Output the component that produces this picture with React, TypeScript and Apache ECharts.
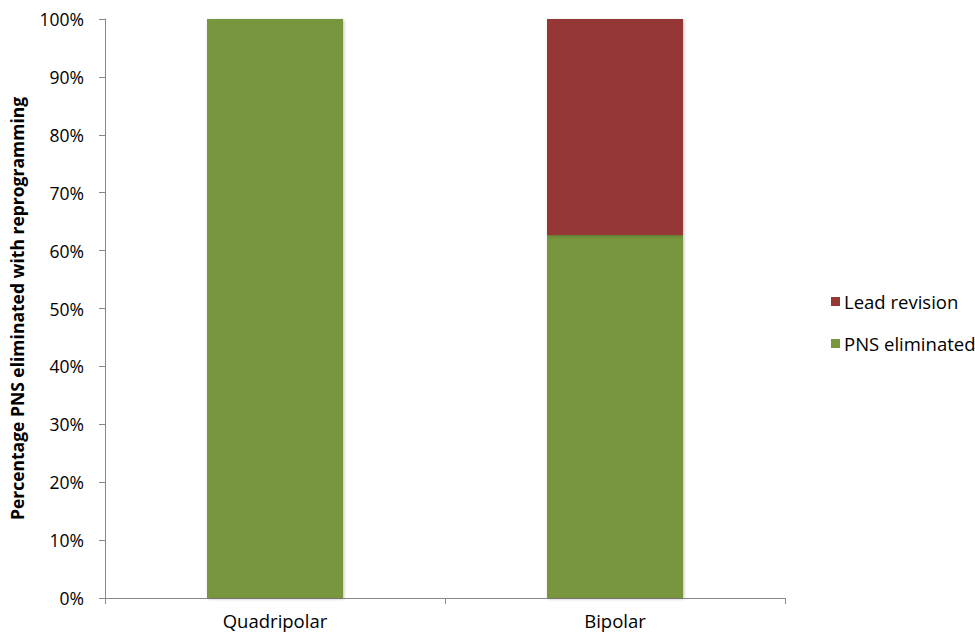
import React, { useEffect, useRef } from "react";
import * as echarts from "echarts";

const categories = ["Quadripolar", "Bipolar"];
const pnsEliminated = [100, 62.7];
const leadRevision = [0, 37.3];
const legendOrder = ["Lead revision", "PNS eliminated"];
const yAxisTitle = "Percentage PNS eliminated with reprogramming";

export default function App() {
  const ref = useRef<HTMLDivElement>(null);
  useEffect(() => {
    document.body.style.margin = "0";
    const chart = echarts.init(ref.current!, undefined, { renderer: "svg" });
    const font = "'Open Sans', Lato, sans-serif";
    chart.setOption({
      animation: false,
      textStyle: { fontFamily: font },
      grid: { left: 104, right: 190, top: 19, bottom: 37 },
      legend: {
        data: legendOrder,
        orient: "vertical",
        left: 826,
        top: 287,
        itemWidth: 9,
        itemHeight: 9,
        itemGap: 23,
        icon: "rect",
        textStyle: { fontSize: 18.5, color: "#000", fontFamily: font, padding: [0, 0, 0, -1] },
      },
      xAxis: {
        type: "category",
        data: categories,
        axisLine: { lineStyle: { color: "#898989", width: 1 } },
        axisTick: { show: true, alignWithLabel: false, length: 6, lineStyle: { color: "#898989" } },
        axisLabel: { fontSize: 18.5, color: "#000", margin: 13, fontFamily: font },
      },
      yAxis: {
        type: "value",
        min: 0,
        max: 100,
        interval: 10,
        name: yAxisTitle,
        nameLocation: "middle",
        nameGap: 79,
        nameTextStyle: { fontSize: 17.5, fontWeight: "bold", color: "#000", fontFamily: font },
        axisLine: { show: true, lineStyle: { color: "#898989", width: 1 } },
        axisTick: { show: true, length: 6, lineStyle: { color: "#898989" } },
        splitLine: { show: false },
        axisLabel: { fontSize: 17.5, color: "#000", margin: 21, formatter: "{value}%", fontFamily: font },
      },
      series: [
        {
          name: "PNS eliminated",
          type: "bar",
          stack: "total",
          barWidth: "40%",
          data: pnsEliminated,
          itemStyle: { color: "#77963D", shadowColor: "rgba(0,0,0,0.25)", shadowBlur: 3, shadowOffsetX: 1, shadowOffsetY: 1 },
        },
        {
          name: "Lead revision",
          type: "bar",
          stack: "total",
          barWidth: "40%",
          data: leadRevision,
          itemStyle: { color: "#953836", shadowColor: "rgba(0,0,0,0.25)", shadowBlur: 3, shadowOffsetX: 1, shadowOffsetY: 1 },
        },
      ],
    });
    return () => chart.dispose();
  }, []);
  return <div ref={ref} style={{ width: 975, height: 635 }} />;
}
